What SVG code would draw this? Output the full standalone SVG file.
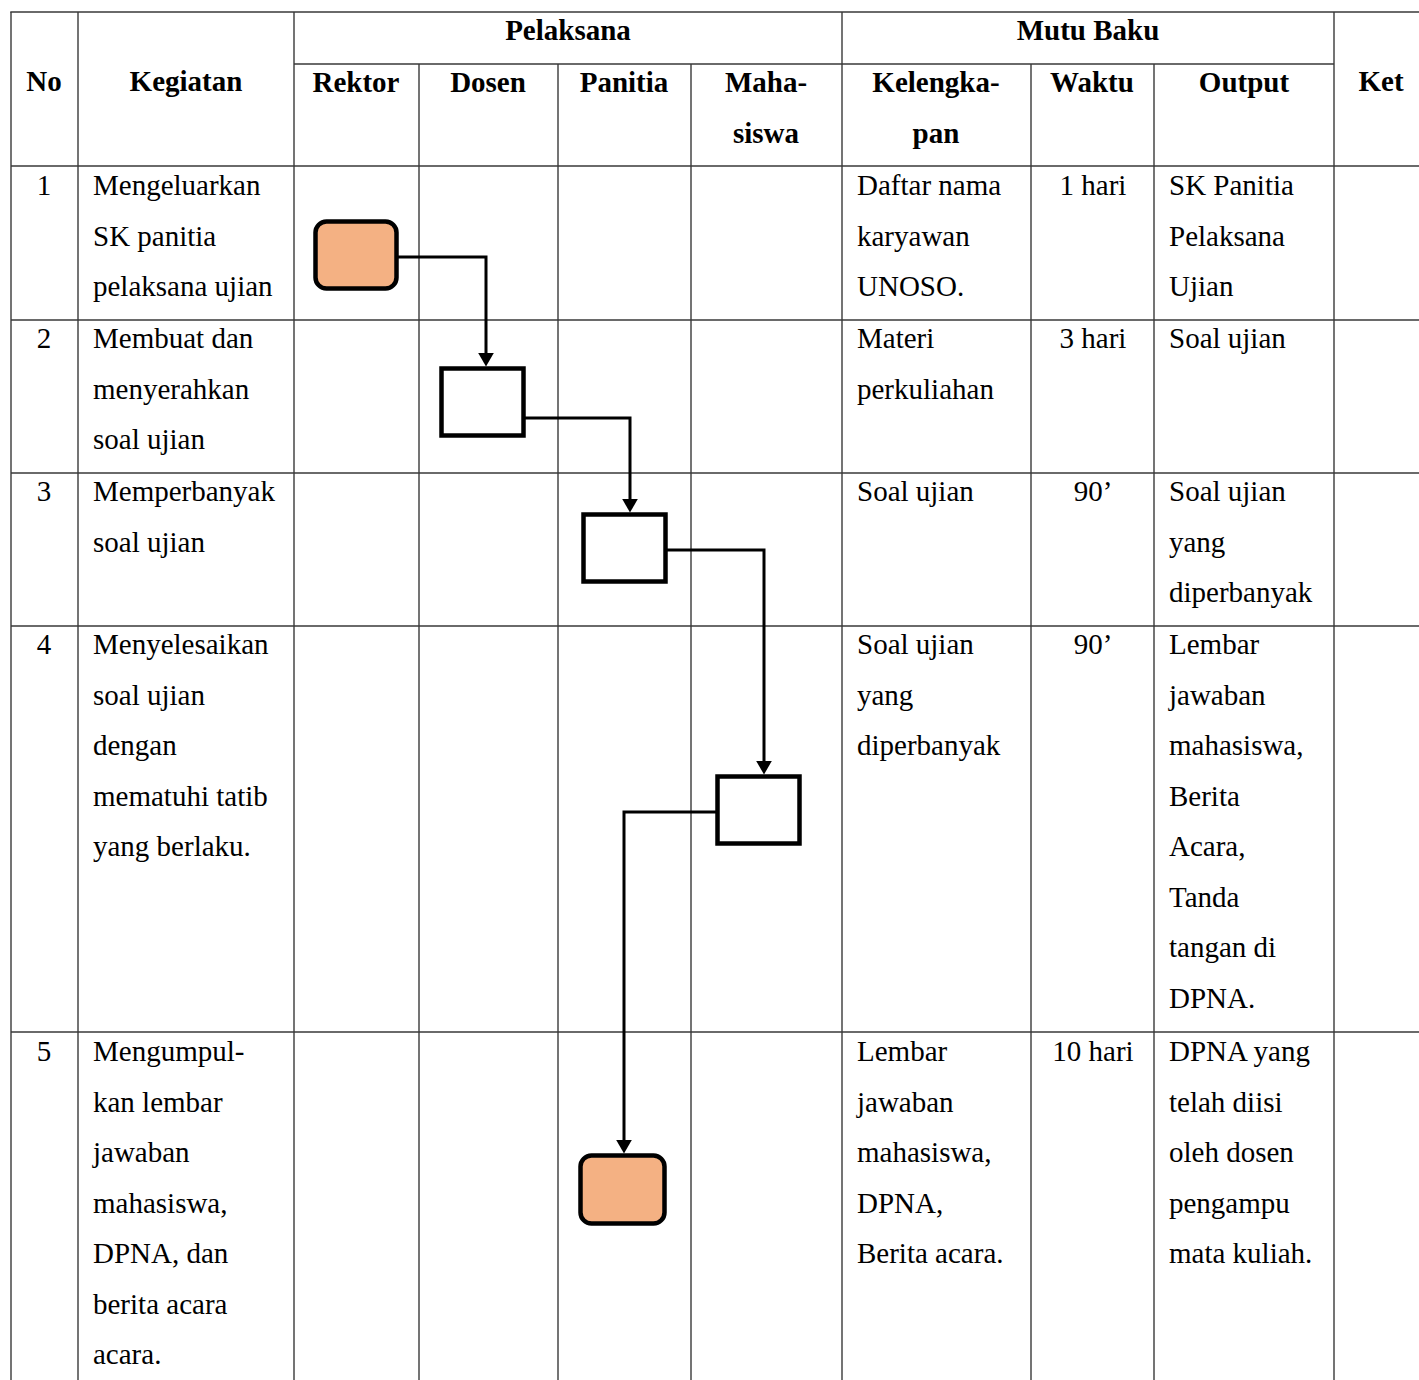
<svg xmlns="http://www.w3.org/2000/svg" width="1419" height="1380" viewBox="0 0 1419 1380">
<style>
.g{stroke:#3a3a3a;stroke-width:1.4;fill:none}
.t{font-family:"Liberation Serif","Times New Roman",serif;font-size:29px;fill:#000}
.h{font-family:"Liberation Serif","Times New Roman",serif;font-size:29px;font-weight:bold;fill:#000;text-anchor:middle}
.c{text-anchor:middle}
.box{fill:#fff;stroke:#000;stroke-width:4.5}
.term{fill:#F4B183;stroke:#000;stroke-width:4.5}
.con{fill:none;stroke:#000;stroke-width:3}
</style>
<defs>
<marker id="arr" markerUnits="userSpaceOnUse" markerWidth="14" markerHeight="16" refX="5" refY="7.5" orient="auto" viewBox="0 0 13 15">
<path d="M0,0 L13,7.5 L0,15 Z" fill="#000"/>
</marker>
</defs>
<rect width="1419" height="1380" fill="#fff"/>
<g id="grid">
<path class="g" d="M10.3,12 H1419 M294,64 H1334 M11,166 H1419 M11,320 H1419 M11,473 H1419 M11,626 H1419 M11,1032 H1419"/>
<path class="g" d="M11,12 V1380 M78,12 V1380 M294,12 V1380 M419,64 V1380 M558,64 V1380 M691,64 V1380 M842,12 V1380 M1031,64 V1380 M1154,64 V1380 M1334,12 V1380"/>
</g>
<g id="header">
<text class="h" x="44" y="91">No</text>
<text class="h" x="186" y="91">Kegiatan</text>
<text class="h" x="568" y="40">Pelaksana</text>
<text class="h" x="1088" y="40">Mutu Baku</text>
<text class="h" x="356" y="92">Rektor</text>
<text class="h" x="488" y="92">Dosen</text>
<text class="h" x="624" y="92">Panitia</text>
<text class="h" x="766" y="92">Maha-</text>
<text class="h" x="766" y="143">siswa</text>
<text class="h" x="936" y="92">Kelengka-</text>
<text class="h" x="936" y="143">pan</text>
<text class="h" x="1092" y="92">Waktu</text>
<text class="h" x="1244" y="92">Output</text>
<text class="h" x="1381" y="91">Ket</text>
</g>
<g id="row1">
<text class="t c" x="44" y="195">1</text>
<text class="t" x="93" y="195"><tspan x="93">Mengeluarkan</tspan><tspan x="93" dy="50.5">SK panitia</tspan><tspan x="93" dy="50.5">pelaksana ujian</tspan></text>
<text class="t" x="857" y="195"><tspan x="857">Daftar nama</tspan><tspan x="857" dy="50.5">karyawan</tspan><tspan x="857" dy="50.5">UNOSO.</tspan></text>
<text class="t c" x="1093" y="195">1 hari</text>
<text class="t" x="1169" y="195"><tspan x="1169">SK Panitia</tspan><tspan x="1169" dy="50.5">Pelaksana</tspan><tspan x="1169" dy="50.5">Ujian</tspan></text>
</g>
<g id="row2">
<text class="t c" x="44" y="348">2</text>
<text class="t" x="93" y="348"><tspan x="93">Membuat dan</tspan><tspan x="93" dy="50.5">menyerahkan</tspan><tspan x="93" dy="50.5">soal ujian</tspan></text>
<text class="t" x="857" y="348"><tspan x="857">Materi</tspan><tspan x="857" dy="50.5">perkuliahan</tspan></text>
<text class="t c" x="1093" y="348">3 hari</text>
<text class="t" x="1169" y="348">Soal ujian</text>
</g>
<g id="row3">
<text class="t c" x="44" y="501">3</text>
<text class="t" x="93" y="501"><tspan x="93">Memperbanyak</tspan><tspan x="93" dy="50.5">soal ujian</tspan></text>
<text class="t" x="857" y="501">Soal ujian</text>
<text class="t c" x="1093" y="501">90’</text>
<text class="t" x="1169" y="501"><tspan x="1169">Soal ujian</tspan><tspan x="1169" dy="50.5">yang</tspan><tspan x="1169" dy="50.5">diperbanyak</tspan></text>
</g>
<g id="row4">
<text class="t c" x="44" y="654">4</text>
<text class="t" x="93" y="654"><tspan x="93">Menyelesaikan</tspan><tspan x="93" dy="50.5">soal ujian</tspan><tspan x="93" dy="50.5">dengan</tspan><tspan x="93" dy="50.5">mematuhi tatib</tspan><tspan x="93" dy="50.5">yang berlaku.</tspan></text>
<text class="t" x="857" y="654"><tspan x="857">Soal ujian</tspan><tspan x="857" dy="50.5">yang</tspan><tspan x="857" dy="50.5">diperbanyak</tspan></text>
<text class="t c" x="1093" y="654">90’</text>
<text class="t" x="1169" y="654"><tspan x="1169">Lembar</tspan><tspan x="1169" dy="50.5">jawaban</tspan><tspan x="1169" dy="50.5">mahasiswa,</tspan><tspan x="1169" dy="50.5">Berita</tspan><tspan x="1169" dy="50.5">Acara,</tspan><tspan x="1169" dy="50.5">Tanda</tspan><tspan x="1169" dy="50.5">tangan di</tspan><tspan x="1169" dy="50.5">DPNA.</tspan></text>
</g>
<g id="row5">
<text class="t c" x="44" y="1061">5</text>
<text class="t" x="93" y="1061"><tspan x="93">Mengumpul-</tspan><tspan x="93" dy="50.5">kan lembar</tspan><tspan x="93" dy="50.5">jawaban</tspan><tspan x="93" dy="50.5">mahasiswa,</tspan><tspan x="93" dy="50.5">DPNA, dan</tspan><tspan x="93" dy="50.5">berita acara</tspan><tspan x="93" dy="50.5">acara.</tspan></text>
<text class="t" x="857" y="1061"><tspan x="857">Lembar</tspan><tspan x="857" dy="50.5">jawaban</tspan><tspan x="857" dy="50.5">mahasiswa,</tspan><tspan x="857" dy="50.5">DPNA,</tspan><tspan x="857" dy="50.5">Berita acara.</tspan></text>
<text class="t c" x="1093" y="1061">10 hari</text>
<text class="t" x="1169" y="1061"><tspan x="1169">DPNA yang</tspan><tspan x="1169" dy="50.5">telah diisi</tspan><tspan x="1169" dy="50.5">oleh dosen</tspan><tspan x="1169" dy="50.5">pengampu</tspan><tspan x="1169" dy="50.5">mata kuliah.</tspan></text>
</g>
<g id="connectors">
<path class="con" d="M398,257 H486 V358" marker-end="url(#arr)"/>
<path class="con" d="M525,418 H630 V504" marker-end="url(#arr)"/>
<path class="con" d="M667,550 H764 V766" marker-end="url(#arr)"/>
<path class="con" d="M716,812 H624 V1145" marker-end="url(#arr)"/>
</g>
<g id="node-start"><rect class="term" x="315.5" y="221.5" width="81" height="67" rx="11"/></g>
<g id="node-dosen"><rect class="box" x="441.5" y="368.5" width="82" height="67"/></g>
<g id="node-panitia"><rect class="box" x="583.5" y="514.5" width="82" height="67"/></g>
<g id="node-mahasiswa"><rect class="box" x="717.5" y="776.5" width="82" height="67"/></g>
<g id="node-end"><rect class="term" x="580.5" y="1155.5" width="84" height="68" rx="11"/></g>
</svg>
